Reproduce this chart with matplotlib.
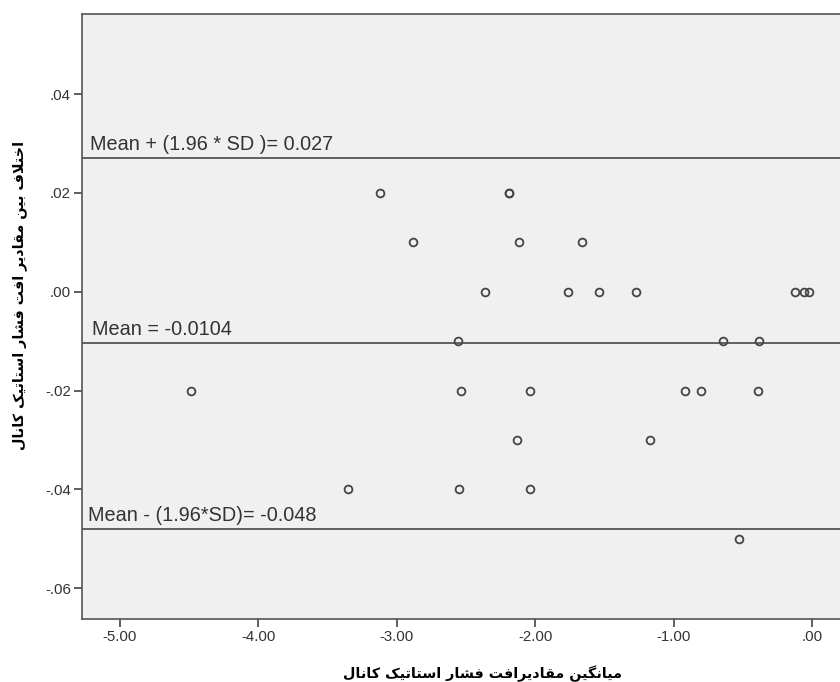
import matplotlib
matplotlib.use('Agg')
import matplotlib.pyplot as plt

# Bland-Altman data
diff_vals = [0.02, 0.02, 0.02,
             0.01, 0.01, 0.01,
             0.00, 0.00, 0.00, 0.00, 0.00, 0.00, 0.00,
             -0.01, -0.01, -0.01,
             -0.02, -0.02, -0.02, -0.02, -0.02, -0.02,
             -0.03, -0.03,
             -0.04, -0.04, -0.04,
             -0.05]
mean_vals = [-3.12, -2.19, -2.19,
             -2.88, -2.12, -1.66,
             -2.36, -1.76, -1.54, -1.27, -0.12, -0.06, -0.02,
             -2.56, -0.64, -0.38,
             -4.49, -2.54, -2.04, -0.92, -0.80, -0.39,
             -2.13, -1.17,
             -3.35, -2.55, -2.04,
             -0.53]

mean_diff = -0.0104
upper_loa = 0.027
lower_loa = -0.048
line_labels = ['Mean + (1.96 * SD )= 0.027', 'Mean = -0.0104', 'Mean - (1.96*SD)= -0.048']

x_ticks = [-5, -4, -3, -2, -1, 0]
x_ticklabels = ['-5.00', '-4.00', '-3.00', '-2.00', '-1.00', '.00']
y_ticks = [0.04, 0.02, 0.0, -0.02, -0.04, -0.06]
y_ticklabels = ['.04', '.02', '.00', '-.02', '-.04', '-.06']

x_title = 'میانگین مقادیرافت فشار استاتیک کانال'
y_title = 'اختلاف بین مقادیر افت فشار استاتیک کانال'


# matplotlib has no arabic shaping -> pick presentation forms by hand and reverse
# (isolated, final, initial, medial)
FORMS = {
    'ا': ('\uFE8D', '\uFE8E', None, None),
    'ب': ('\uFE8F', '\uFE90', '\uFE91', '\uFE92'),
    'ت': ('\uFE95', '\uFE96', '\uFE97', '\uFE98'),
    'خ': ('\uFEA5', '\uFEA6', '\uFEA7', '\uFEA8'),
    'د': ('\uFEA9', '\uFEAA', None, None),
    'ر': ('\uFEAD', '\uFEAE', None, None),
    'س': ('\uFEB1', '\uFEB2', '\uFEB3', '\uFEB4'),
    'ش': ('\uFEB5', '\uFEB6', '\uFEB7', '\uFEB8'),
    'ف': ('\uFED1', '\uFED2', '\uFED3', '\uFED4'),
    'ق': ('\uFED5', '\uFED6', '\uFED7', '\uFED8'),
    'ل': ('\uFEDD', '\uFEDE', '\uFEDF', '\uFEE0'),
    'م': ('\uFEE1', '\uFEE2', '\uFEE3', '\uFEE4'),
    'ن': ('\uFEE5', '\uFEE6', '\uFEE7', '\uFEE8'),
    'ی': ('\uFBFC', '\uFBFD', '\uFBFE', '\uFBFF'),
    'ک': ('\uFB8E', '\uFB8F', '\uFB90', '\uFB91'),
    'گ': ('\uFB92', '\uFB93', '\uFB94', '\uFB95'),
    '\u0001': ('\uFEFB', '\uFEFC', None, None),  # lam-alef
}


def shape(text):
    text = text.replace('لا', '\u0001')
    out = []
    for i, ch in enumerate(text):
        if ch not in FORMS:
            out.append(ch)
            continue
        prev = text[i - 1] if i > 0 else ' '
        nxt = text[i + 1] if i + 1 < len(text) else ' '
        join_prev = prev in FORMS and FORMS[prev][2] is not None
        join_next = nxt in FORMS and FORMS[ch][2] is not None
        iso, fin, ini, med = FORMS[ch]
        if join_prev and join_next:
            out.append(med)
        elif join_prev:
            out.append(fin)
        elif join_next:
            out.append(ini)
        else:
            out.append(iso)
    return ''.join(out)[::-1]


plt.rcParams['font.family'] = ['Liberation Sans', 'DejaVu Sans']

fig = plt.figure(figsize=(8.4, 6.82), dpi=100)
ax = fig.add_axes([0.0976, 0.0924, 0.9024, 0.8871])
ax.set_facecolor('#f0f0f0')

grey = '#444444'
for yv in [upper_loa, mean_diff, lower_loa]:
    ax.axhline(yv, color='#555555', lw=1.3, zorder=1)

ax.plot(mean_vals, diff_vals, 'o', ms=5.6, mfc='none', mec=grey, mew=1.3, zorder=3)

for yv, lab, dx in zip([upper_loa, mean_diff, lower_loa], line_labels, [-5.215, -5.2, -5.23]):
    ax.annotate(lab, xy=(dx, yv), xytext=(0, 3), textcoords='offset points',
                ha='left', va='bottom', fontsize=14.3, color='#333333')

ax.set_xlim(-5.275, 0.202)
ax.set_ylim(-0.0662, 0.0562)
ax.set_xticks(x_ticks)
ax.set_xticklabels(x_ticklabels)
ax.set_yticks(y_ticks)
ax.set_yticklabels(y_ticklabels)
ax.tick_params(direction='out', length=5.5, width=1.2, color=grey, labelsize=10.8,
               labelcolor='#333333', pad=2.5)

for side in ['top', 'left', 'bottom']:
    ax.spines[side].set_color('#555555')
    ax.spines[side].set_linewidth(1.2)
ax.spines['right'].set_visible(False)

ax.set_xlabel(shape(x_title), family=['DejaVu Sans'], fontweight='bold', fontsize=10.3)
ax.set_ylabel(shape(y_title), family=['DejaVu Sans'], fontweight='bold', fontsize=10.3)
ax.xaxis.set_label_coords(0.529, -0.077)
ax.yaxis.set_label_coords(-0.072, 0.535)

fig.savefig('out.png', dpi=100)
